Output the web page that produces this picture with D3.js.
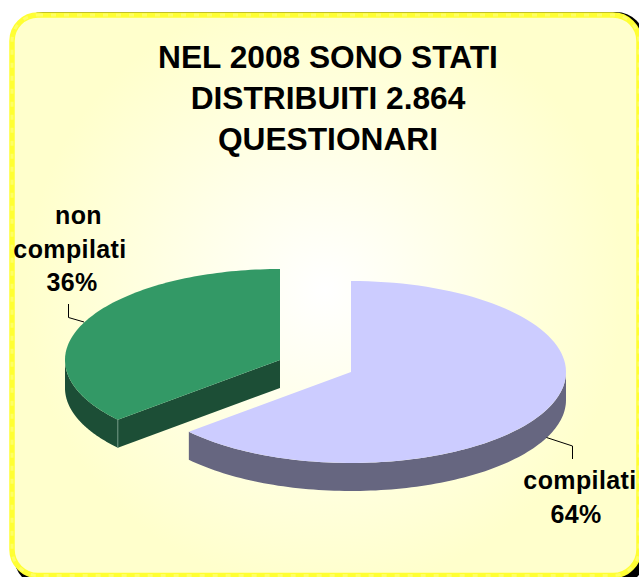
<!DOCTYPE html>
<html>
<head>
<meta charset="utf-8">
<script src="https://d3js.org/d3.v7.min.js"></script>
<style>
  html, body { margin: 0; padding: 0; background: #fff; overflow: hidden; }
  text { font-family: "Liberation Sans", Arial, sans-serif; font-weight: bold; fill: #000; }
</style>
</head>
<body>
<div id="chart"></div>
<script>
// shares, the labels show them rounded
var categories = ["compilati", "non compilati"];
var values = [63.6, 36.4];
var percentLabels = ["64%", "36%"];
var titleLines = ["NEL 2008 SONO STATI", "DISTRIBUITI 2.864", "QUESTIONARI"];

var width = 639, height = 577;

var svg = d3.select("#chart")
  .append("svg")
    .attr("width", width)
    .attr("height", height);

// background panel
var defs = svg.append("defs");
var grad = defs.append("radialGradient")
    .attr("id", "panelFill")
    .attr("gradientUnits", "userSpaceOnUse")
    .attr("cx", 325).attr("cy", 290).attr("r", 300);
grad.append("stop").attr("offset", "0%").attr("stop-color", "#ffffff");
grad.append("stop").attr("offset", "100%").attr("stop-color", "#ffffcc");

// black shadow, only shows at the corners
svg.append("rect")
    .attr("x", 14).attr("y", 12)
    .attr("width", 631).attr("height", 574)
    .attr("rx", 29)
    .attr("fill", "#000");

svg.append("rect")
    .attr("x", 12).attr("y", 15)
    .attr("width", 627).attr("height", 560.5)
    .attr("rx", 26)
    .attr("fill", "url(#panelFill)")
    .attr("stroke", "#ffff33")
    .attr("stroke-width", 5.5);

// lighter patches on the border
svg.append("rect")
    .attr("x", 12).attr("y", 15)
    .attr("width", 627).attr("height", 560.5)
    .attr("rx", 26)
    .attr("fill", "none")
    .attr("stroke", "#ffff66")
    .attr("stroke-width", 3)
    .attr("stroke-dasharray", "5 8");

// title
svg.append("g").selectAll("text")
  .data(titleLines)
  .enter()
  .append("text")
    .attr("x", 328)
    .attr("y", (d, i) => 68 + i * 41)
    .attr("text-anchor", "middle")
    .attr("font-size", 31.7)
    .text(d => d);

// pie, flattened by the two radii
var pie = d3.pie().sort(null).value(d => d)(values);
var rx = 215, ry = 91, depth = 28;
var centers = [{x: 351, y: 372}, {x: 280, y: 360}];
var topColors = ["#ccccff", "#339966"];
var sideColors = ["#666680", "#1c4e36"];

function rimPoint(c, a, drop) {
  return [c.x + rx * Math.sin(a), c.y - ry * Math.cos(a) + (drop || 0)];
}

function rim(c, a0, a1, drop) {
  return d3.range(0, 101).map(i => rimPoint(c, a0 + (a1 - a0) * i / 100, drop));
}

var line = d3.line();

// walls first, then tops
// lilac outer wall, from the right edge to the cut
svg.append("path")
    .attr("d", line(rim(centers[0], Math.PI / 2, pie[0].endAngle)
      .concat(rim(centers[0], pie[0].endAngle, Math.PI / 2, depth))) + "Z")
    .attr("fill", sideColors[0]);

// green outer wall
svg.append("path")
    .attr("d", line(rim(centers[1], pie[1].startAngle, 1.5 * Math.PI)
      .concat(rim(centers[1], 1.5 * Math.PI, pie[1].startAngle, depth))) + "Z")
    .attr("fill", sideColors[1]);

// green cut face
var tip = rimPoint(centers[1], pie[1].startAngle);
svg.append("path")
    .attr("d", line([[centers[1].x, centers[1].y], tip, [tip[0], tip[1] + depth], [centers[1].x, centers[1].y + depth]]) + "Z")
    .attr("fill", sideColors[1]);
svg.append("line")
    .attr("x1", tip[0]).attr("y1", tip[1])
    .attr("x2", tip[0]).attr("y2", tip[1] + depth)
    .attr("stroke", "#6f9583")
    .attr("stroke-width", 1);

pie.forEach(function(p, i) {
  var c = centers[i];
  svg.append("path")
    .attr("d", line([[c.x, c.y]].concat(rim(c, p.startAngle, p.endAngle))) + "Z")
    .attr("fill", topColors[i]);
});

// leader lines
svg.append("path")
    .attr("d", "M546.5,437.5L572.5,446V459")
    .attr("fill", "none").attr("stroke", "#000").attr("stroke-width", 1);
svg.append("path")
    .attr("d", "M84,322L68.5,317.5V304")
    .attr("fill", "none").attr("stroke", "#000").attr("stroke-width", 1);

// labels
var labelLines = [[categories[0], percentLabels[0]], ["non", "compilati", percentLabels[1]]];
var labelX = [[580, 576], [78.5, 70, 72]];
var labelY = [489, 224];
labelLines.forEach(function(lines, i) {
  svg.append("g").selectAll("text")
    .data(lines)
    .enter()
    .append("text")
      .attr("x", (d, j) => labelX[i][j])
      .attr("y", (d, j) => labelY[i] + j * 33.5)
      .attr("text-anchor", "middle")
      .attr("font-size", 25)
      .attr("letter-spacing", 0.4)
      .text(d => d);
});
</script>
</body>
</html>
